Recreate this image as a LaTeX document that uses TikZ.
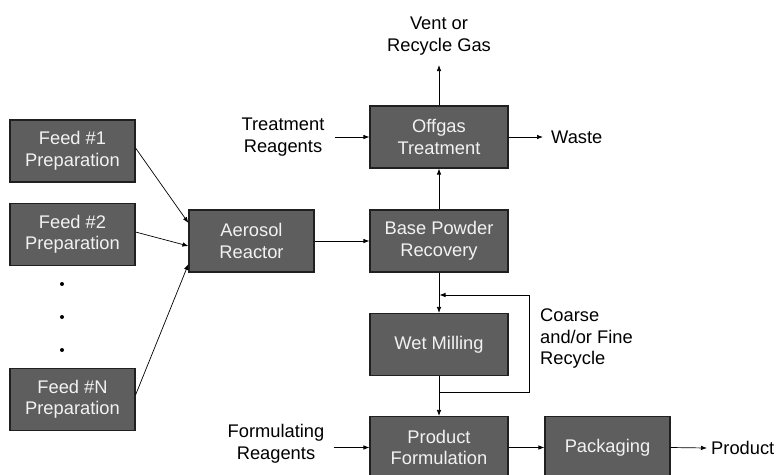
\documentclass[tikz,border=0pt]{standalone}
\usepackage{fontspec}
\setmainfont{Liberation Sans}
\usetikzlibrary{arrows.meta}
\definecolor{boxfill}{HTML}{5E5E5E}
\definecolor{boxline}{HTML}{202020}
\definecolor{boxtext}{HTML}{F2F2F2}
\begin{document}
\begin{tikzpicture}[x=1pt,y=-1pt,
  font=\fontsize{18.3}{21.5}\selectfont,
  procbox/.style={draw=boxline,line width=1.1pt,fill=boxfill,text=boxtext,
    minimum height=62pt,align=center,inner sep=0pt},
  narrow/.style={procbox,minimum width=125pt},
  wide/.style={procbox,minimum width=138pt},
  lbl/.style={align=center,inner sep=0pt,text=black},
  arr/.style={draw=black,line width=0.7pt,-{Latex[length=6pt,width=4.5pt]}}]
\useasboundingbox (0,0) rectangle (776,474);
% boxes
\node[narrow] (f1) at (72.5,151) {Feed \#1\\Preparation};
\node[narrow] (f2) at (72.5,234.5) {Feed \#2\\Preparation};
\node[narrow] (fN) at (72.5,399.5) {Feed \#N\\Preparation};
\node[narrow] (aer) at (251.5,241) {Aerosol\\Reactor};
\node[wide] (bpr) at (439,241) {Base Powder\\Recovery};
\node[wide] (off) at (439,137) {Offgas\\Treatment};
\node[wide] (wet) at (439,344.5) {Wet Milling};
\node[wide] (pf) at (439,447.5) {Product\\Formulation};
\node[narrow] (pack) at (607.5,447.5) {Packaging};
% dots
\foreach \yy/\nm in {284/d1,317/d2,350/d3}
  \fill (62,\yy) circle (2pt) coordinate (\nm);
% labels
\node[lbl,anchor=south] (vent) at (439,55) {Vent or\\Recycle Gas};
\node[lbl] (treat) at (283,137) {Treatment\\Reagents};
\node[lbl,anchor=west] (waste) at (551,137) {Waste};
\node[lbl,anchor=west,align=left] (coarse) at (540,339) {Coarse\\and/or Fine\\Recycle};
\node[lbl] (form) at (276,444) {Formulating\\Reagents};
\node[lbl,anchor=west] (prod) at (711,448) {Product};
% connectors
\draw[arr] ([yshift=3pt]f1.east) -- ([yshift=18pt]aer.west);
\draw[arr] ([yshift=2.5pt]f2.east) -- ([yshift=-5pt]aer.west);
\draw[arr] ([yshift=4.5pt]fN.east) -- ([yshift=-23pt]aer.west);
\draw[arr] (aer.east) -- (bpr.west);
\draw[arr] (bpr.north) -- (off.north |- off.south);
\draw[arr] (off.north) -- ([yshift=-10pt]vent.south);
\draw[arr] (off.east) -- ([xshift=-8pt]waste.west);
\draw[arr] ([xshift=10pt]treat.east) -- (off.west);
\draw[arr] (bpr.south) -- (wet.north);
\draw[arr] (wet.south) -- (pf.north);
\coordinate (r1) at (439,392);
\coordinate (r2) at (529,392);
\coordinate (r3) at (529,295);
\coordinate (r4) at (439.5,295);
\draw[arr] (r1) -- (r2) -- (r3) -- (r4);
\draw[arr] ([xshift=9pt]form.east |- pf.west) -- (pf.west);
\draw[arr] (pf.east) -- (pack.west);
\draw[arr] (pack.east) -- ([xshift=-4pt]prod.west);
\end{tikzpicture}
\end{document}
